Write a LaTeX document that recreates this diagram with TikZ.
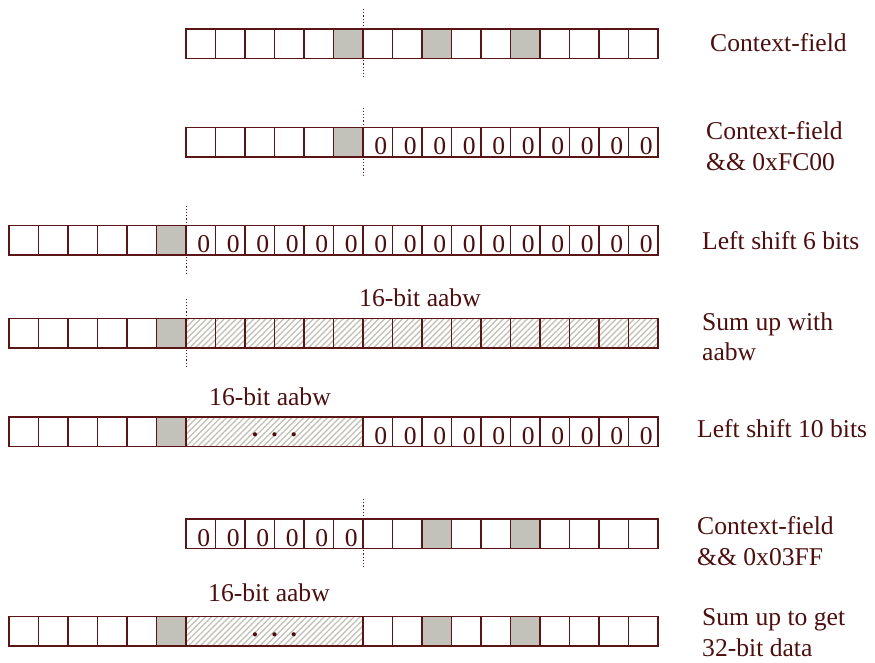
\documentclass[tikz,border=0pt]{standalone}
\usepackage{fontspec}
\setmainfont{Liberation Serif}
\usetikzlibrary{patterns.meta,calc}

\definecolor{bitline}{HTML}{5A1616}
\definecolor{bittext}{HTML}{4C0E0E}
\definecolor{bitgray}{HTML}{C2C1BA}
\definecolor{hatchgray}{HTML}{C4C3B8}

\begin{document}
\begin{tikzpicture}[
    x=1pt, y=-1pt,
    font=\fontsize{25.6}{30.7}\selectfont, text=bittext,
    cell/.style={draw=bitline, line width=1.5pt, minimum width=29.5pt, minimum height=29.5pt, inner sep=0pt, outer sep=0pt, anchor=north west},
    blank/.style={fill=white},
    grey/.style={fill=bitgray},
    hatch/.style={pattern={Lines[angle=45,distance=4.2pt,line width=1.4pt]}, pattern color=hatchgray},
    zero/.style={text height=25pt, text depth=0pt, execute at begin node={\hspace*{6pt}0}},
    block/.style={cell, hatch, minimum width=177pt, text height=9.5pt, text depth=0pt},
    divider/.style={draw=bitline, line width=1pt, dash pattern=on 1.2pt off 2pt},
    lbl/.style={anchor=base west, inner sep=0pt, align=left}
]
\useasboundingbox (0,0) rectangle (875,662);

% context field
\foreach \t [count=\i] in {blank,blank,blank,blank,blank,grey,blank,blank,grey,blank,blank,grey,blank,blank,blank,blank}
  \node[cell,\t] (ctx\i) at ({186+(\i-1)*29.5},29) {};
\draw[divider] ($(ctx6.north east)+(0,-20)$) -- ($(ctx6.south east)+(0,18)$);
\node[lbl] (ctxtxt) at (710,51.7) {Context-field};

% and with 0xFC00
\foreach \t [count=\i] in {blank,blank,blank,blank,blank,grey,zero,zero,zero,zero,zero,zero,zero,zero,zero,zero}
  \node[cell,\t] (mask\i) at ({186+(\i-1)*29.5},127.5) {};
\draw[divider] ($(mask6.north east)+(0,-20)$) -- ($(mask6.south east)+(0,18)$);
\node[lbl] (masktxt) at (706,170) {Context-field\\\&\& 0xFC00};

% left shift 6
\foreach \t [count=\i] in {blank,blank,blank,blank,blank,grey,zero,zero,zero,zero,zero,zero,zero,zero,zero,zero,zero,zero,zero,zero,zero,zero}
  \node[cell,\t] (shl\i) at ({9+(\i-1)*29.5},225.5) {};
\draw[divider] ($(shl6.north east)+(0,-20)$) -- ($(shl6.south east)+(0,18)$);
\node[lbl] (shltxt) at (702,249.3) {Left shift 6 bits};

% sum with aabw
\foreach \t [count=\i] in {blank,blank,blank,blank,blank,grey,hatch,hatch,hatch,hatch,hatch,hatch,hatch,hatch,hatch,hatch,hatch,hatch,hatch,hatch,hatch,hatch}
  \node[cell,\t] (sum\i) at ({9+(\i-1)*29.5},318.5) {};
\draw[divider] ($(sum6.north east)+(0,-20)$) -- ($(sum6.south east)+(0,18)$);
\node[lbl] (sumaabw) at (359,306.7) {16-bit aabw};
\node[lbl] (sumtxt) at (702,360.7) {Sum up with\\aabw};

% left shift 10
\foreach \t [count=\i] in {blank,blank,blank,blank,blank,grey}
  \node[cell,\t] (shr\i) at ({9+(\i-1)*29.5},417) {};
\node[block] (shrblk) at (186,417) {\textbf{.}\hspace{13pt}\textbf{.}\hspace{13pt}\textbf{.}};
\foreach \i in {1,...,10}
  \node[cell,zero] (shrz\i) at ({363+(\i-1)*29.5},417) {};
\node[lbl] (shraabw) at (209,405) {16-bit aabw};
\node[lbl] (shrtxt) at (697,437.7) {Left shift 10 bits};

% and with 0x03FF
\foreach \t [count=\i] in {zero,zero,zero,zero,zero,zero,blank,blank,grey,blank,blank,grey,blank,blank,blank,blank}
  \node[cell,\t] (low\i) at ({186+(\i-1)*29.5},519) {};
\draw[divider] ($(low6.north east)+(0,-20)$) -- ($(low6.south east)+(0,18)$);
\node[lbl] (lowtxt) at (697,565) {Context-field\\\&\& 0x03FF};

% 32-bit result
\foreach \t [count=\i] in {blank,blank,blank,blank,blank,grey}
  \node[cell,\t] (res\i) at ({9+(\i-1)*29.5},616.5) {};
\node[block] (resblk) at (186,616.5) {\textbf{.}\hspace{13pt}\textbf{.}\hspace{13pt}\textbf{.}};
\foreach \t [count=\i] in {blank,blank,grey,blank,blank,grey,blank,blank,blank,blank}
  \node[cell,\t] (resl\i) at ({363+(\i-1)*29.5},616.5) {};
\node[lbl] (resaabw) at (208,601.7) {16-bit aabw};
\node[lbl] (restxt) at (702,656.5) {Sum up to get\\32-bit data};
\end{tikzpicture}
\end{document}
